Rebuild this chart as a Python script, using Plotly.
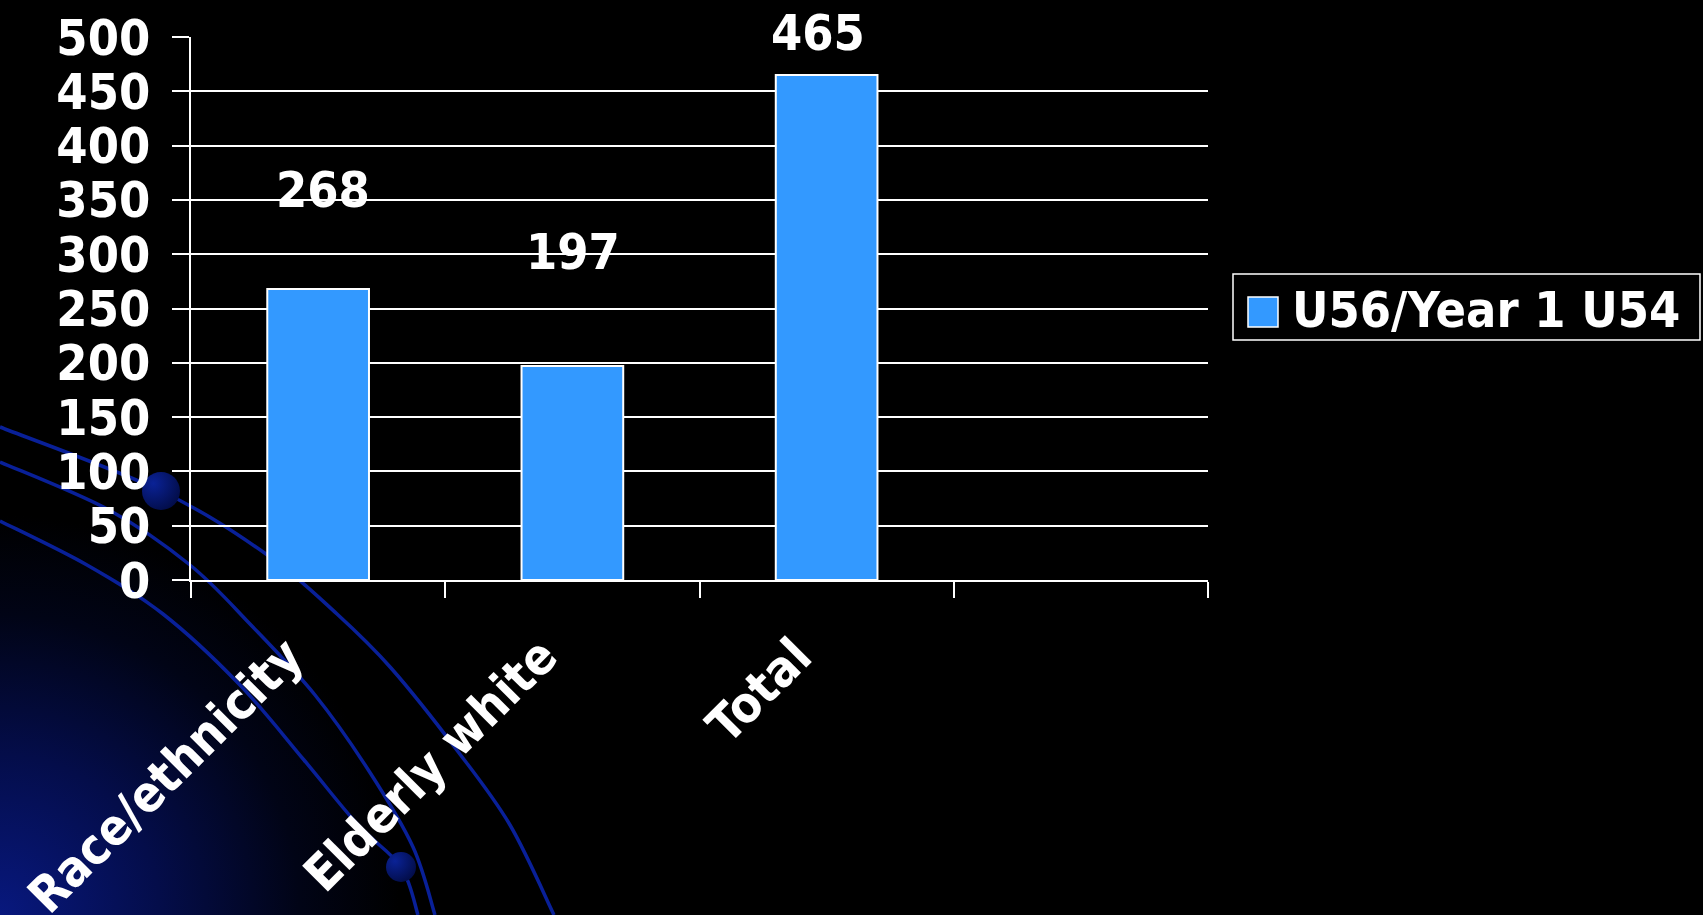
import base64
import plotly.graph_objects as go

# ---- data ----
categories = ["Race/ethnicity", "Elderly white", "Total", " "]
values = [268, 197, 465, None]
series_name = "U56/Year 1 U54"
y_ticks = [0, 50, 100, 150, 200, 250, 300, 350, 400, 450, 500]

# ---- layout constants (pixels) ----
W, H = 1703, 915
L, R, T, B = 191, 495, 37, 335
PW, PH = W - L - R, H - T - B
BAR = "#3399FF"
FONT = dict(family="DejaVu Sans Condensed, DejaVu Sans", size=50, color="white", weight="bold")

def px_x(px):
    return (px - L) / PW

def px_y(py):
    return (H - B - py) / PH

# ---- decorative background (svg) ----
def smooth_path(pts):
    d = f"M{pts[0][0]},{pts[0][1]}"
    for i in range(len(pts) - 1):
        p0 = pts[i - 1] if i > 0 else pts[i]
        p1, p2 = pts[i], pts[i + 1]
        p3 = pts[i + 2] if i + 2 < len(pts) else pts[i + 1]
        c1 = (p1[0] + (p2[0] - p0[0]) / 6, p1[1] + (p2[1] - p0[1]) / 6)
        c2 = (p2[0] - (p3[0] - p1[0]) / 6, p2[1] - (p3[1] - p1[1]) / 6)
        d += f" C{c1[0]:.1f},{c1[1]:.1f} {c2[0]:.1f},{c2[1]:.1f} {p2[0]},{p2[1]}"
    return d

curves = [
    [(0, 427), (161, 491), (266, 554), (337, 614), (391, 668), (456, 749), (510, 825), (554, 915)],
    [(0, 462), (109, 510), (190, 565), (250, 624), (315, 695), (369, 771), (413, 847), (435, 915)],
    [(0, 521), (87, 565), (163, 614), (239, 684), (304, 760), (358, 825), (401, 867), (418, 915)],
]
paths = "".join(
    f'<path d="{smooth_path(c)}" fill="none" stroke="#0a24a8" stroke-width="3.5" stroke-opacity="0.9"/>'
    for c in curves
)
svg = f'''<svg xmlns="http://www.w3.org/2000/svg" width="{W}" height="{H}" viewBox="0 0 {W} {H}">
<defs>
<radialGradient id="g" cx="0" cy="{H}" r="400" gradientUnits="userSpaceOnUse">
<stop offset="0" stop-color="#08187e"/>
<stop offset="0.4" stop-color="#040d4a"/>
<stop offset="0.75" stop-color="#010416"/>
<stop offset="1" stop-color="#000000"/>
</radialGradient>
<radialGradient id="d" cx="0.3" cy="0.3" r="0.8">
<stop offset="0" stop-color="#0a2296"/>
<stop offset="1" stop-color="#020c46"/>
</radialGradient>
</defs>
<rect width="{W}" height="{H}" fill="#000"/>
<rect width="{W}" height="{H}" fill="url(#g)"/>
{paths}
<circle cx="161" cy="491" r="19" fill="url(#d)"/>
<circle cx="401" cy="867" r="15" fill="url(#d)"/>
</svg>'''
svg_uri = "data:image/svg+xml;base64," + base64.b64encode(svg.encode()).decode()

fig = go.Figure()
fig.add_trace(go.Bar(
    x=categories, y=values, name=series_name,
    marker=dict(color=BAR, line=dict(color="white", width=2)),
    showlegend=False,
))

label_yshift = [99, 114, 42]
label_xshift = [5, 1, -9]
for i, (c, v) in enumerate(zip(categories, values)):
    if v is None:
        continue
    fig.add_annotation(x=c, y=v, text=str(v), showarrow=False, yanchor="middle",
                       xanchor="center", yshift=label_yshift[i], xshift=label_xshift[i],
                       font=FONT)

# custom legend
fig.add_shape(type="rect", xref="paper", yref="paper",
              x0=px_x(1233), x1=px_x(1700), y0=px_y(340), y1=px_y(274),
              line=dict(color="white", width=1.5), fillcolor="rgba(0,0,0,0)")
fig.add_shape(type="rect", xref="paper", yref="paper",
              x0=px_x(1248), x1=px_x(1278), y0=px_y(327), y1=px_y(297),
              line=dict(color="white", width=1.5), fillcolor=BAR)
fig.add_annotation(xref="paper", yref="paper", x=px_x(1290), y=px_y(310),
                   text=series_name, showarrow=False, xanchor="left", yanchor="middle",
                   font=FONT)

fig.add_layout_image(dict(
    source=svg_uri, xref="paper", yref="paper",
    x=px_x(0), y=px_y(0), sizex=W / PW, sizey=H / PH,
    sizing="stretch", xanchor="left", yanchor="top", layer="below",
))

fig.update_layout(
    width=W, height=H,
    margin=dict(l=L, r=R, t=T, b=B, pad=0, autoexpand=False),
    paper_bgcolor="black", plot_bgcolor="rgba(0,0,0,0)",
    bargap=0.6,
    font=FONT,
)
fig.update_xaxes(
    type="category", categoryorder="array", categoryarray=categories,
    range=[-0.5, 3.5], tickangle=-45, tickfont=FONT, automargin=False,
    showline=True, linecolor="white", linewidth=1.5,
    ticks="outside", tickson="boundaries", ticklen=16, tickcolor="white", tickwidth=1.5,
    showgrid=False, fixedrange=True,
    ticklabelstandoff=25, ticklabelshift=-30,
)
fig.update_yaxes(
    range=[0, 500], tickvals=y_ticks, tickfont=FONT, automargin=False,
    showline=True, linecolor="white", linewidth=1.5,
    ticks="outside", ticklen=17, tickcolor="white", tickwidth=1.5,
    showgrid=True, gridcolor="white", gridwidth=1.5,
    zeroline=False, ticklabelstandoff=12, fixedrange=True,
)

fig.write_html("out.html", config={"displayModeBar": False})
